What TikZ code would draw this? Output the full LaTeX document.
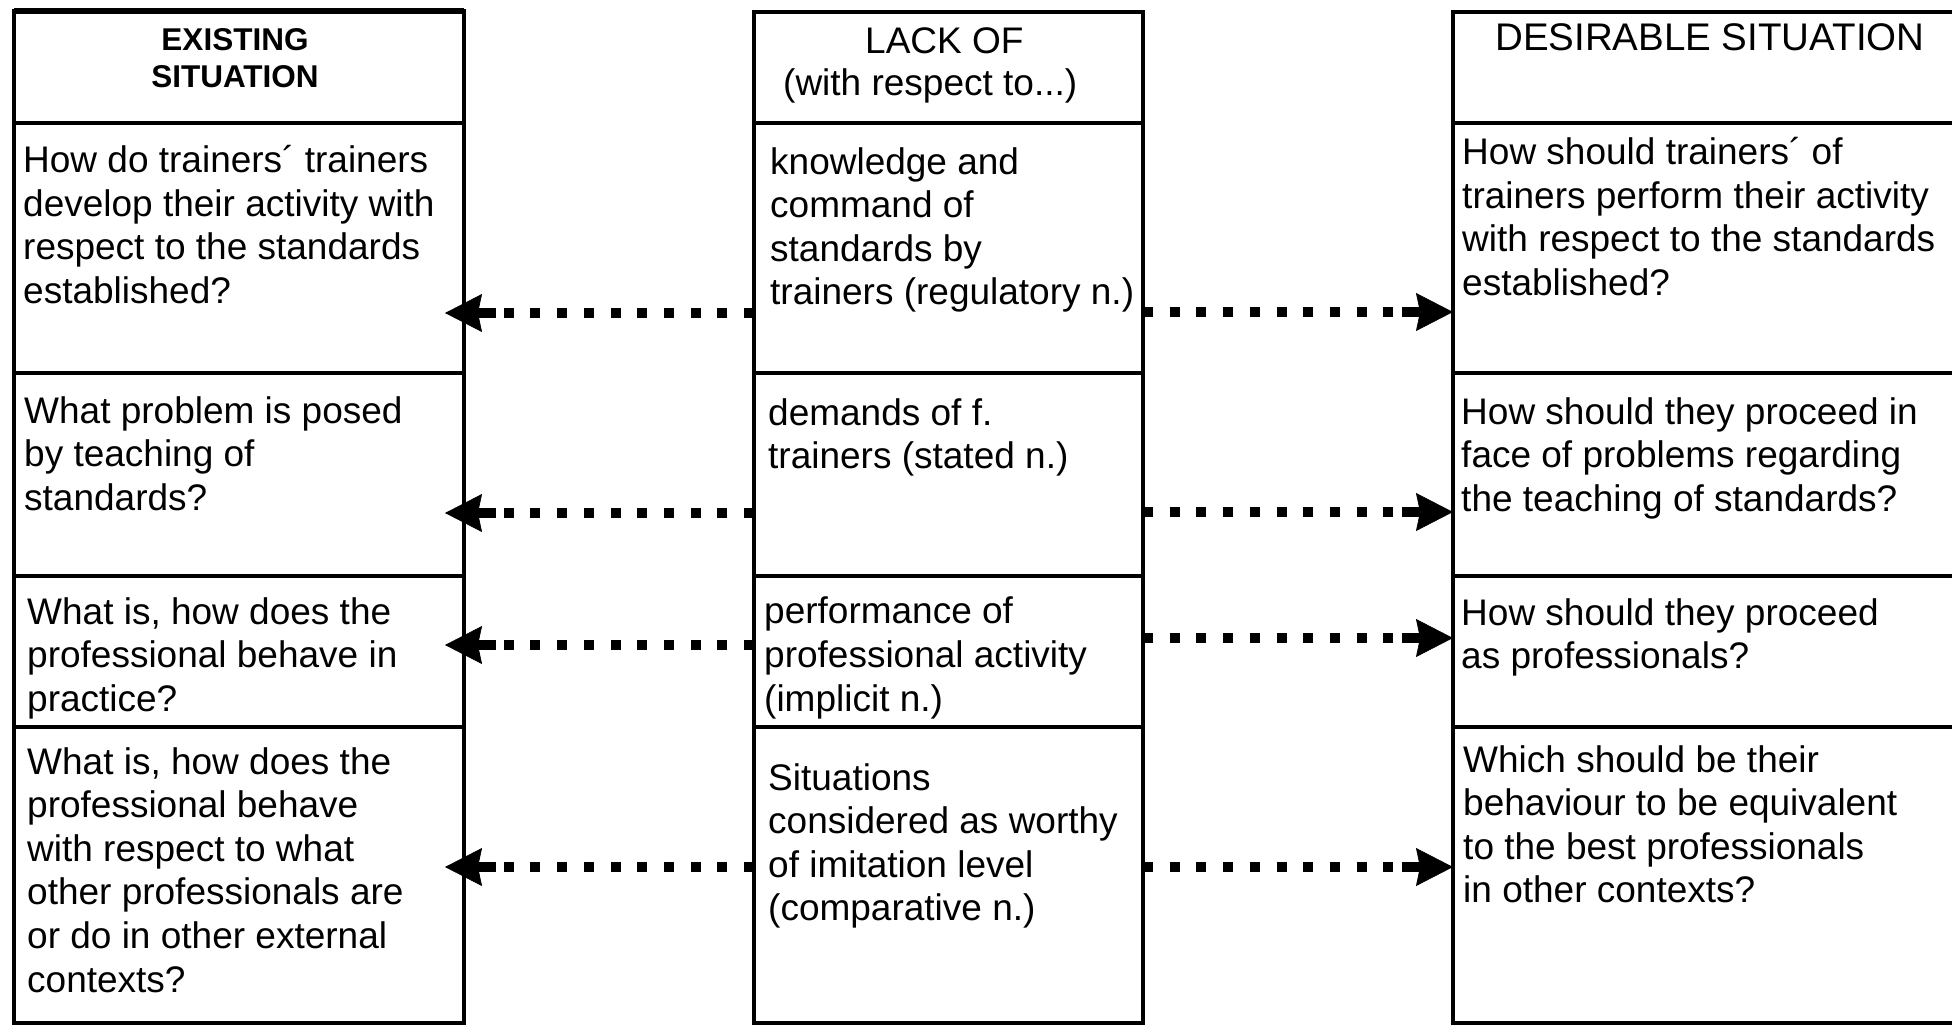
\documentclass[tikz,border=0pt]{standalone}
\usepackage{fontspec}
\setmainfont{Liberation Sans}
\usetikzlibrary{arrows.meta}

\tikzset{
  cell/.style={draw=black, line width=3.2pt, inner sep=0pt, outer sep=0pt,
               anchor=north west},
  txt/.style={font=\fontsize{37}{43.6}\selectfont, align=left, inner sep=0pt,
              anchor=north west},
  headtxt/.style={font=\fontsize{37}{43.6}\selectfont, inner sep=0pt,
                  anchor=base west},
  dotarrow/.style={line width=10pt, dash pattern=on 10pt off 16.7pt,
                   -{Rectangle[length=14pt, width=10pt, line width=0pt, sep=0pt]
                     Stealth[length=37pt, width=38pt, inset=4pt, line width=0.6pt]}}
}

\begin{document}
\begin{tikzpicture}[x=1pt, y=-1pt]
  \path[use as bounding box, fill=white] (0,0) rectangle (1952,1026);
  \clip (0,0) rectangle (1952,1026);

  % left column: existing situation
  \node[cell, minimum width=450pt, minimum height=112pt] (l0) at (14,11) {};
  \node[cell, minimum width=450pt, minimum height=250pt] (l1) at (14,123) {};
  \node[cell, minimum width=450pt, minimum height=203pt] (l2) at (14,373) {};
  \node[cell, minimum width=450pt, minimum height=151pt] (l3) at (14,576) {};
  \node[cell, minimum width=450pt, minimum height=296pt] (l4) at (14,727) {};
  \draw[line width=5.5pt] (l0.north west) -- (l0.north east);

  % middle column: lack of
  \node[cell, minimum width=389pt, minimum height=111pt] (m0) at (754,12) {};
  \node[cell, minimum width=389pt, minimum height=250pt] (m1) at (754,123) {};
  \node[cell, minimum width=389pt, minimum height=203pt] (m2) at (754,373) {};
  \node[cell, minimum width=389pt, minimum height=151pt] (m3) at (754,576) {};
  \node[cell, minimum width=389pt, minimum height=296pt] (m4) at (754,727) {};

  % right column: desirable situation (runs past the right edge)
  \node[cell, minimum width=530pt, minimum height=111pt] (r0) at (1453,12) {};
  \node[cell, minimum width=530pt, minimum height=250pt] (r1) at (1453,123) {};
  \node[cell, minimum width=530pt, minimum height=203pt] (r2) at (1453,373) {};
  \node[cell, minimum width=530pt, minimum height=151pt] (r3) at (1453,576) {};
  \node[cell, minimum width=530pt, minimum height=296pt] (r4) at (1453,727) {};

  % headers
  \node[font=\bfseries\fontsize{31.5}{37}\selectfont, align=center, inner sep=0pt,
        anchor=north] (h1) at (235,28) {EXISTING\\SITUATION};
  \node[headtxt] (h2a) at (865,53) {LACK OF};
  \node[headtxt] (h2b) at (783,95) {(with respect to...)};
  \node[headtxt, font=\fontsize{38.5}{44}\selectfont] (h3) at (1495,50) {DESIRABLE SITUATION};

  % left texts
  \node[txt] (lt1) at (23,145) {How do trainers´ trainers\\develop their activity with\\respect to the standards\\established?};
  \node[txt] (lt2) at (24,396) {What problem is posed\\by teaching of\\standards?};
  \node[txt] (lt3) at (27,597) {What is, how does the\\professional behave in\\practice?};
  \node[txt] (lt4) at (27,747) {What is, how does the\\professional behave\\with respect to what\\other professionals are\\or do in other external\\contexts?};

  % middle texts
  \node[txt] (mt1) at (770,147) {knowledge and\\command of\\standards by\\trainers (regulatory n.)};
  \node[txt] (mt2) at (768,398) {demands of f.\\trainers (stated n.)};
  \node[txt] (mt3) at (764,597) {performance of\\professional activity\\(implicit n.)};
  \node[txt] (mt4) at (768,763) {Situations\\considered as worthy\\of imitation level\\(comparative n.)};

  % right texts
  \node[txt] (rt1) at (1462,137) {How should trainers´ of\\trainers perform their activity\\with respect to the standards\\established?};
  \node[txt] (rt2) at (1461,397) {How should they proceed in\\face of problems regarding\\the teaching of standards?};
  \node[txt] (rt3) at (1461,598) {How should they proceed\\as professionals?};
  \node[txt] (rt4) at (1463,745) {Which should be their\\behaviour to be equivalent\\to the best professionals\\in other contexts?};

  % arrow heights
  \coordinate (y1l) at (0,313);
  \coordinate (y1r) at (0,312);
  \coordinate (y2l) at (0,513);
  \coordinate (y2r) at (0,512);
  \coordinate (y3l) at (0,645);
  \coordinate (y3r) at (0,638);
  \coordinate (y4l) at (0,867);
  \coordinate (y4r) at (0,867);

  % dotted arrows from the middle column outwards
  \draw[dotarrow, shorten >=-19pt] (m1.west |- y1l) -- (l1.east |- y1l);
  \draw[dotarrow] (m1.east |- y1r) -- (r1.west |- y1r);
  \draw[dotarrow, shorten >=-19pt] (m2.west |- y2l) -- (l2.east |- y2l);
  \draw[dotarrow] (m2.east |- y2r) -- (r2.west |- y2r);
  \draw[dotarrow, shorten >=-19pt] (m3.west |- y3l) -- (l3.east |- y3l);
  \draw[dotarrow] (m3.east |- y3r) -- (r3.west |- y3r);
  \draw[dotarrow, shorten >=-19pt] (m4.west |- y4l) -- (l4.east |- y4l);
  \draw[dotarrow] (m4.east |- y4r) -- (r4.west |- y4r);
\end{tikzpicture}
\end{document}
